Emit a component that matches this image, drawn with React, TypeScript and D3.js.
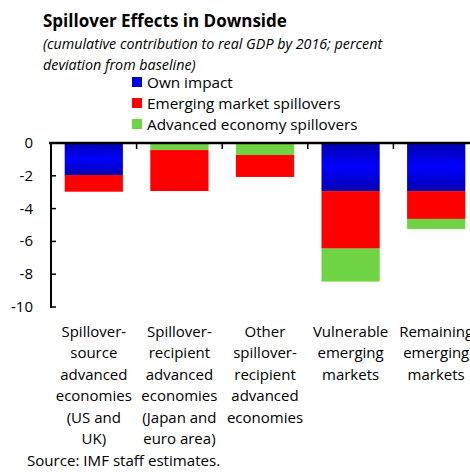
import {useRef, useEffect} from "react";
import * as d3 from "d3";

const categories = [
    ["Spillover-", "source", "advanced", "economies", "(US and", "UK)"],
    ["Spillover-", "recipient", "advanced", "economies", "(Japan and", "euro area)"],
    ["Other", "spillover-", "recipient", "advanced", "economies"],
    ["Vulnerable", "emerging", "markets"],
    ["Remaining", "emerging", "markets"],
];
const ownImpact = [-1.95, 0, 0, -2.93, -2.93];
const emSpill = [-1.02, -2.5, -1.34, -3.51, -1.7];
const aeSpill = [0, -0.43, -0.73, -2.01, -0.61];
// stacking order in each bar, top to bottom
const stackOrder = [
    ["own", "em", "ae"],
    ["own", "ae", "em"],
    ["own", "ae", "em"],
    ["own", "em", "ae"],
    ["own", "em", "ae"],
];
const yTicks = [0, -2, -4, -6, -8, -10];
const legendItems = ["Own impact", "Emerging market spillovers", "Advanced economy spillovers"];

const font = "'Open Sans', sans-serif";

function App() {
    const ref = useRef(null);
    const width = 470;
    const height = 472;

    useEffect(() => {
        const svg = d3.select(ref.current);
        svg.selectAll("*").remove();

        const values = {own: ownImpact, em: emSpill, ae: aeSpill};
        const colors = {own: "url(#blueGrad)", em: "#ff0000", ae: "#6fd443"};

        const x = d3.scaleBand().domain(d3.range(categories.length)).range([51, 479]).paddingInner(0.32).paddingOuter(0.16);
        const step = x.step();
        const y = d3.scaleLinear().domain([-10, 0]).range([307, 143]);

        const defs = svg.append("defs");
        const grad = defs.append("linearGradient").attr("id", "blueGrad").attr("x1", 0).attr("y1", 0).attr("x2", 0).attr("y2", 1);
        grad.append("stop").attr("offset", "0%").attr("stop-color", "#0000b0");
        grad.append("stop").attr("offset", "50%").attr("stop-color", "#0000ff");
        grad.append("stop").attr("offset", "100%").attr("stop-color", "#0000b0");

        // title
        svg.append("text").attr("x", 43).attr("y", 27).attr("font-family", font).attr("font-weight", "bold")
            .attr("font-size", 17).text("Spillover Effects in Downside");
        svg.append("text").attr("x", 43).attr("y", 49).attr("font-family", font).attr("font-style", "italic")
            .attr("font-size", 14.3).text("(cumulative contribution to real GDP by 2016; percent");
        svg.append("text").attr("x", 43).attr("y", 70).attr("font-family", font).attr("font-style", "italic")
            .attr("font-size", 14.3).text("deviation from baseline)");

        // legend
        const legendKeys = ["own", "em", "ae"];
        legendItems.forEach((d, i) => {
            svg.append("rect").attr("x", 132).attr("y", 77 + i * 21).attr("width", 10).attr("height", 10)
                .attr("fill", colors[legendKeys[i]]);
            svg.append("text").attr("x", 147).attr("y", 88 + i * 21).attr("font-family", font)
                .attr("font-size", 15.3).text(d);
        });

        // bars
        categories.forEach((c, i) => {
            let base = 0;
            stackOrder[i].forEach(k => {
                const v = values[k][i];
                if (v === 0) return;
                svg.append("rect")
                    .attr("x", x(i))
                    .attr("y", y(base))
                    .attr("width", x.bandwidth())
                    .attr("height", y(base + v) - y(base))
                    .attr("fill", colors[k]);
                base += v;
            });
        });

        // y axis
        svg.append("line").attr("x1", 51).attr("x2", 51).attr("y1", 142).attr("y2", 308)
            .attr("stroke", "black").attr("stroke-width", 2);
        yTicks.forEach(t => {
            svg.append("line").attr("x1", 51).attr("x2", 56).attr("y1", y(t)).attr("y2", y(t))
                .attr("stroke", "black").attr("stroke-width", 1.5);
            svg.append("text").attr("x", 33).attr("y", y(t) + 5).attr("text-anchor", "end")
                .attr("font-family", font).attr("font-size", 15).text(t === 0 ? "0" : "-" + Math.abs(t));
        });

        // x axis at zero
        svg.append("line").attr("x1", 49).attr("x2", width).attr("y1", y(0)).attr("y2", y(0))
            .attr("stroke", "black").attr("stroke-width", 2.5);
        d3.range(1, categories.length).forEach(i => {
            const bx = 51 + step * i;
            svg.append("line").attr("x1", bx).attr("x2", bx).attr("y1", y(0)).attr("y2", y(0) + 6)
                .attr("stroke", "black").attr("stroke-width", 1.5);
        });

        // category labels
        categories.forEach((lines, i) => {
            const cx = x(i) + x.bandwidth() / 2;
            lines.forEach((l, j) => {
                svg.append("text").attr("x", cx).attr("y", 337 + j * 21.4).attr("text-anchor", "middle")
                    .attr("font-family", font).attr("font-size", 15).text(l);
            });
        });

        svg.append("text").attr("x", 27).attr("y", 466).attr("font-family", font).attr("font-size", 15.1)
            .text("Source: IMF staff estimates.");
    }, []);

    return (
        <svg ref={ref} width={width} height={height}
             style={{position: "absolute", left: 0, top: 0, background: "white"}}/>
    );
}

export default App;
